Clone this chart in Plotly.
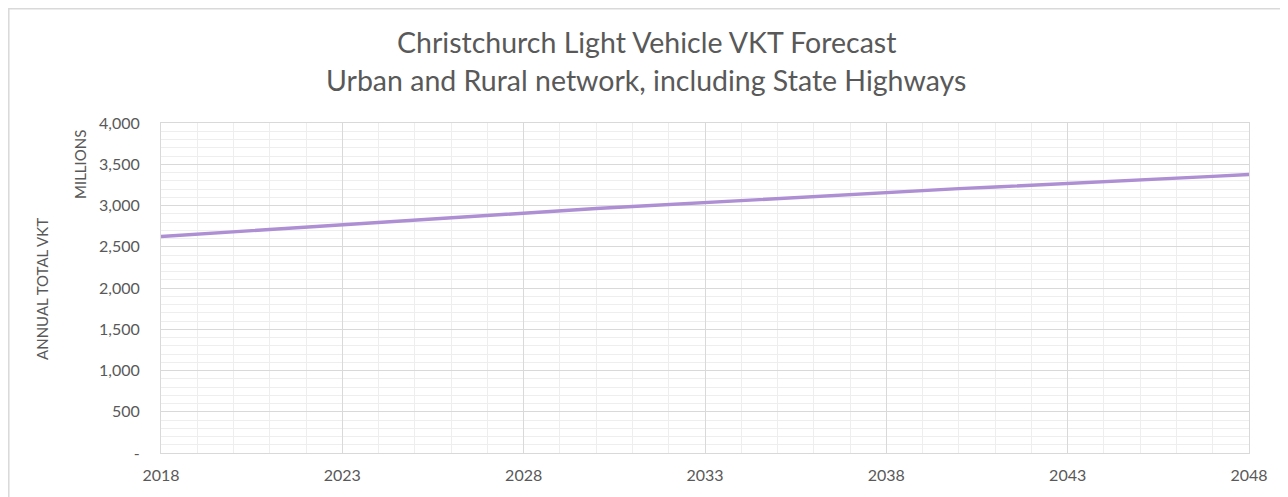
import plotly.graph_objects as go

# Annual light vehicle VKT (millions)
years = list(range(2018, 2049))
vkt = [
    2625, 2653, 2682, 2711, 2740, 2770,
    2799, 2828, 2857, 2886, 2915,
    2939, 2963, 2987, 3011, 3035,
    3060, 3086, 3112, 3138, 3164,
    3184, 3204, 3224, 3244, 3265,
    3287, 3309, 3331, 3353, 3375,
]

x_ticks = [2018, 2023, 2028, 2033, 2038, 2043, 2048]
y_ticks = [0, 500, 1000, 1500, 2000, 2500, 3000, 3500, 4000]
y_labels = ["-", "500", "1,000", "1,500", "2,000", "2,500", "3,000", "3,500", "4,000"]

title_lines = [
    "Christchurch Light Vehicle VKT Forecast",
    "Urban and Rural network, including State Highways",
]

FONT = "Lato"
GREY = "#595959"

fig = go.Figure()
fig.add_trace(
    go.Scatter(
        x=years,
        y=vkt,
        mode="lines",
        line=dict(color="#ae8fd3", width=3.4),
        showlegend=False,
    )
)

# page body has an 8px margin, so the figure is a little smaller than the window
fig.update_layout(
    width=1280,
    height=489,
    margin=dict(l=153, r=39, t=115, b=44),
    paper_bgcolor="white",
    plot_bgcolor="white",
    font=dict(family=FONT, color=GREY, size=16),
    xaxis=dict(
        range=[2018, 2048],
        tickvals=x_ticks,
        ticktext=[str(t) for t in x_ticks],
        showgrid=True,
        gridcolor="#d9d9d9",
        gridwidth=1,
        minor=dict(dtick=1, showgrid=True, gridcolor="#eeeeee", gridwidth=1),
        showline=True,
        linecolor="#d9d9d9",
        mirror=True,
        zeroline=False,
        ticks="",
        ticklabelstandoff=8,
        tickfont=dict(size=16, color=GREY),
    ),
    yaxis=dict(
        range=[0, 4000],
        tickvals=y_ticks,
        ticktext=y_labels,
        showgrid=True,
        gridcolor="#d9d9d9",
        gridwidth=1,
        minor=dict(dtick=100, showgrid=True, gridcolor="#eeeeee", gridwidth=1),
        showline=True,
        linecolor="#d9d9d9",
        mirror=True,
        zeroline=False,
        ticks="",
        ticklabelstandoff=17,
        tickfont=dict(size=16, color=GREY),
    ),
    annotations=[
        dict(
            text=title_lines[0],
            xref="paper", yref="paper",
            x=0.4458, y=1.2454,
            xanchor="center", yanchor="middle",
            showarrow=False,
            font=dict(family=FONT, size=28.5, color=GREY),
        ),
        dict(
            text=title_lines[1],
            xref="paper", yref="paper",
            x=0.4458, y=1.1303,
            xanchor="center", yanchor="middle",
            showarrow=False,
            font=dict(family=FONT, size=28.5, color=GREY),
        ),
        dict(
            text="ANNUAL TOTAL VKT",
            xref="paper", yref="paper",
            x=-0.1094, y=0.497,
            xanchor="center", yanchor="middle",
            textangle=-90,
            showarrow=False,
            font=dict(family=FONT, size=15, color=GREY),
        ),
        dict(
            text="MILLIONS",
            xref="paper", yref="paper",
            x=-0.0744, y=0.873,
            xanchor="center", yanchor="middle",
            textangle=-90,
            showarrow=False,
            font=dict(family=FONT, size=15, color=GREY),
        ),
    ],
    shapes=[
        # chart-area frame
        dict(
            type="rect",
            xref="paper", yref="paper",
            x0=-0.1399, x1=1.1, y0=-0.3, y1=1.3462,
            line=dict(color="#d9d9d9", width=1.5),
            fillcolor="rgba(0,0,0,0)",
            layer="below",
        ),
    ],
)

fig.write_html("out.html")
